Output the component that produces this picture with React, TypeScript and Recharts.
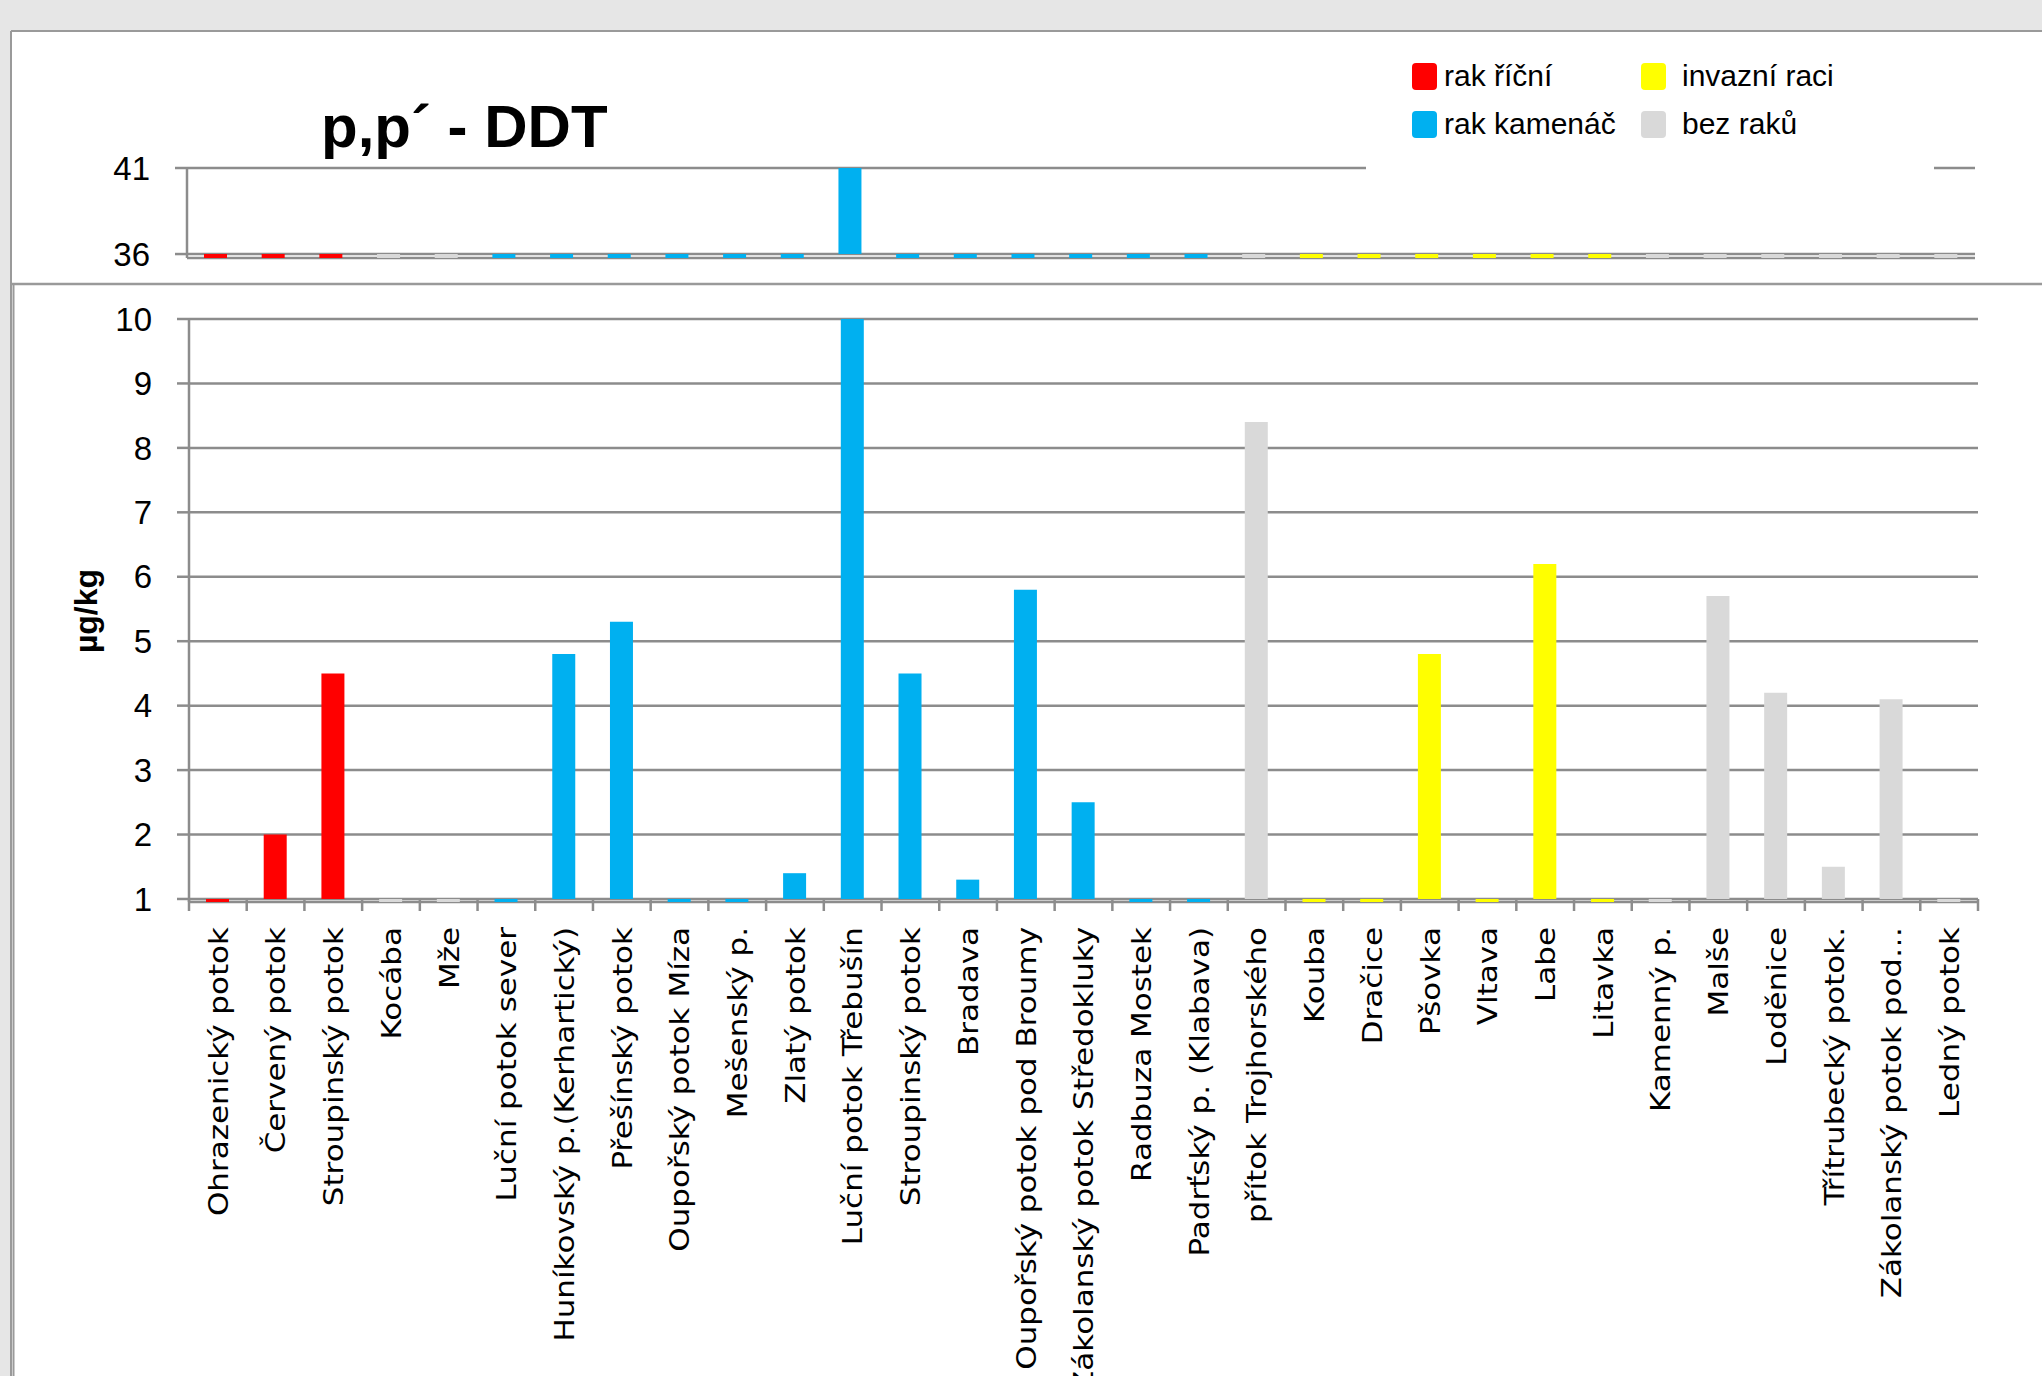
import React from 'react';
import { BarChart, Bar, XAxis, YAxis, CartesianGrid, Cell } from 'recharts';

// Sampling sites along the x axis (left to right).
const categories = [
  'Ohrazenický potok',
  'Červený potok',
  'Stroupinský potok',
  'Kocába',
  'Mže',
  'Luční potok sever',
  'Huníkovský p.(Kerhartický)',
  'Přešínský potok',
  'Oupořský potok Míza',
  'Mešenský p.',
  'Zlatý potok',
  'Luční potok Třebušín',
  'Stroupinský potok',
  'Bradava',
  'Oupořský potok pod Broumy',
  'Zákolanský potok Středokluky',
  'Radbuza Mostek',
  'Padrťský p. (Klabava)',
  'přítok Trojhorského',
  'Kouba',
  'Dračice',
  'Pšovka',
  'Vltava',
  'Labe',
  'Litavka',
  'Kamenný p.',
  'Malše',
  'Loděnice',
  'Třítrubecký potok.',
  'Zákolanský potok pod…',
  'Ledný potok',
];

// p,p´-DDT concentration in µg/kg for each site.
const ddtValues = [
  0, 2.0, 4.5, 0, 0, 0, 4.8, 5.3, 0, 0, 1.4, 41, 4.5, 1.3, 5.8, 2.5, 0, 0, 8.4, 0, 0, 4.8, 0, 6.2,
  0, 0, 5.7, 4.2, 1.5, 4.1, 0,
];

// Crayfish presence at each site: r = rak říční, k = rak kamenáč, i = invazní raci, n = bez raků.
const crayfishGroups = [
  'r', 'r', 'r', 'n', 'n', 'k', 'k', 'k', 'k', 'k', 'k', 'k', 'k', 'k', 'k', 'k', 'k', 'k', 'n',
  'i', 'i', 'i', 'i', 'i', 'i', 'n', 'n', 'n', 'n', 'n', 'n',
];

const groupColors: Record<string, string> = {
  r: '#FF0000',
  k: '#00B0F0',
  i: '#FFFF00',
  n: '#D9D9D9',
};

const legendItems = [
  { group: 'r', label: 'rak říční' },
  { group: 'i', label: 'invazní raci' },
  { group: 'k', label: 'rak kamenáč' },
  { group: 'n', label: 'bez raků' },
];

const title = 'p,p´ - DDT';
const unitLabel = 'µg/kg';

// Broken value axis: upper panel shows 36–41, lower panel shows 1–10.
const upperTicks = [36, 41];
const lowerTicks = [1, 2, 3, 4, 5, 6, 7, 8, 9, 10];
// Each panel's domain reaches slightly under its base line, so bars that fall
// below the break appear as short stubs under the axis.
const UPPER_DOMAIN: [number, number] = [35.77, 41];
const LOWER_DOMAIN: [number, number] = [0.953, 10];
const UPPER_BASE = 36;
const LOWER_BASE = 1;

const data = categories.map((name, i) => ({
  idx: String(i),
  name,
  value: ddtValues[i],
  group: crayfishGroups[i],
}));

const GRID = '#8c8c8c';
const FRAME = '#9a9a9a';
const W = 2042;
const H = 1376;

// Lower panel plot area (horizontal extent) for the between-category tick marks.
const LOWER_LEFT = 189;
const LOWER_RIGHT = 1978;
const HALF_BAND = (LOWER_RIGHT - LOWER_LEFT) / categories.length / 2;

const tickFont = { fill: '#000', fontSize: 33, fontFamily: 'Liberation Sans' };

const CategoryTick = (props: any) => {
  const { x, y, payload, index } = props;
  const i = Number(payload.value);
  const axisY = y - 3;
  const last = index === categories.length - 1;
  return (
    <g>
      <line x1={x - HALF_BAND} x2={x - HALF_BAND} y1={axisY} y2={axisY + 12} stroke={GRID} strokeWidth={2.5} />
      {last && (
        <line x1={x + HALF_BAND} x2={x + HALF_BAND} y1={axisY} y2={axisY + 12} stroke={GRID} strokeWidth={2.5} />
      )}
      <text
        transform={`translate(${x},${axisY + 28}) rotate(-90) scale(1,0.88)`}
        textAnchor="end"
        dy="0.36em"
        fontFamily="DejaVu Sans"
        fontSize={31}
        fill="#000"
      >
        {categories[i]}
      </text>
    </g>
  );
};

export default function App() {
  return (
    <div style={{ position: 'absolute', left: 0, top: 0, width: W, height: H, overflow: 'hidden' }}>
      {/* slide background and chart frames */}
      <svg width={W} height={H} style={{ position: 'absolute', left: 0, top: 0 }}>
        <rect x={0} y={0} width={W} height={H} fill="#e6e6e6" />
        <rect x={11} y={31} width={W} height={H} fill="#ffffff" />
        <line x1={11} x2={W} y1={31} y2={31} stroke={FRAME} strokeWidth={2} />
        <line x1={11} x2={11} y1={31} y2={H} stroke={FRAME} strokeWidth={2} />
        <line x1={12} x2={W} y1={284} y2={284} stroke={FRAME} strokeWidth={2.5} />
        <line x1={13.5} x2={13.5} y1={284} y2={H} stroke={FRAME} strokeWidth={2} />
      </svg>

      {/* upper panel: 36–41 */}
      <div style={{ position: 'absolute', left: 0, top: 0 }}>
        <BarChart width={W} height={284} data={data} margin={{ top: 168, right: 67, bottom: 26, left: 87 }} barSize={23}>
          <CartesianGrid vertical={false} stroke={GRID} strokeWidth={2.5} />
          <XAxis dataKey="idx" hide />
          <YAxis
            type="number"
            domain={UPPER_DOMAIN}
            allowDataOverflow
            ticks={upperTicks}
            width={100}
            tickSize={12}
            tickMargin={25}
            axisLine={{ stroke: GRID, strokeWidth: 2.5 }}
            tickLine={{ stroke: GRID, strokeWidth: 2.5 }}
            tick={tickFont}
          />
          <Bar dataKey={(d: any) => [UPPER_BASE, d.value]} isAnimationActive={false}>
            {data.map((d, i) => (
              <Cell key={i} fill={groupColors[d.group]} />
            ))}
          </Bar>
        </BarChart>
      </div>

      {/* lower panel: 1–10 */}
      <div style={{ position: 'absolute', left: 0, top: 0 }}>
        <BarChart width={W} height={H} data={data} margin={{ top: 319, right: W - LOWER_RIGHT, bottom: 414, left: 9 }} barSize={23}>
          <CartesianGrid vertical={false} stroke={GRID} strokeWidth={2.5} />
          <XAxis
            dataKey="idx"
            interval={0}
            axisLine={false}
            tickLine={false}
            tickSize={0}
            tickMargin={0}
            height={60}
            tick={(p: any) => <CategoryTick {...p} />}
          />
          <YAxis
            type="number"
            domain={LOWER_DOMAIN}
            allowDataOverflow
            ticks={lowerTicks}
            width={LOWER_LEFT - 9}
            tickSize={12}
            tickMargin={25}
            axisLine={{ stroke: GRID, strokeWidth: 2.5 }}
            tickLine={{ stroke: GRID, strokeWidth: 2.5 }}
            tick={tickFont}
          />
          <Bar dataKey={(d: any) => [LOWER_BASE, d.value]} isAnimationActive={false}>
            {data.map((d, i) => (
              <Cell key={i} fill={groupColors[d.group]} />
            ))}
          </Bar>
        </BarChart>
      </div>

      {/* title, unit label and legend */}
      <svg width={W} height={H} style={{ position: 'absolute', left: 0, top: 0, pointerEvents: 'none' }}>
        <text x={321} y={147} fontFamily="Liberation Sans" fontWeight="bold" fontSize={60} fill="#000">
          {title}
        </text>
        <text
          transform="translate(86,611) rotate(-90)"
          textAnchor="middle"
          dy="0.35em"
          fontFamily="Liberation Sans"
          fontWeight="bold"
          fontSize={32}
          fill="#000"
        >
          {unitLabel}
        </text>
        <rect x={1366} y={42} width={568} height={132} fill="#ffffff" />
        {legendItems.map((item, i) => {
          const col = i % 2;
          const row = Math.floor(i / 2);
          const sx = col === 0 ? 1412 : 1641;
          const sy = row === 0 ? 63 : 111;
          const tx = col === 0 ? 1444 : 1682;
          return (
            <g key={item.group}>
              <rect x={sx} y={sy} width={25} height={27} rx={4} fill={groupColors[item.group]} />
              <text x={tx} y={sy + 23} fontFamily="Liberation Sans" fontSize={30} fill="#000">
                {item.label}
              </text>
            </g>
          );
        })}
      </svg>
    </div>
  );
}
